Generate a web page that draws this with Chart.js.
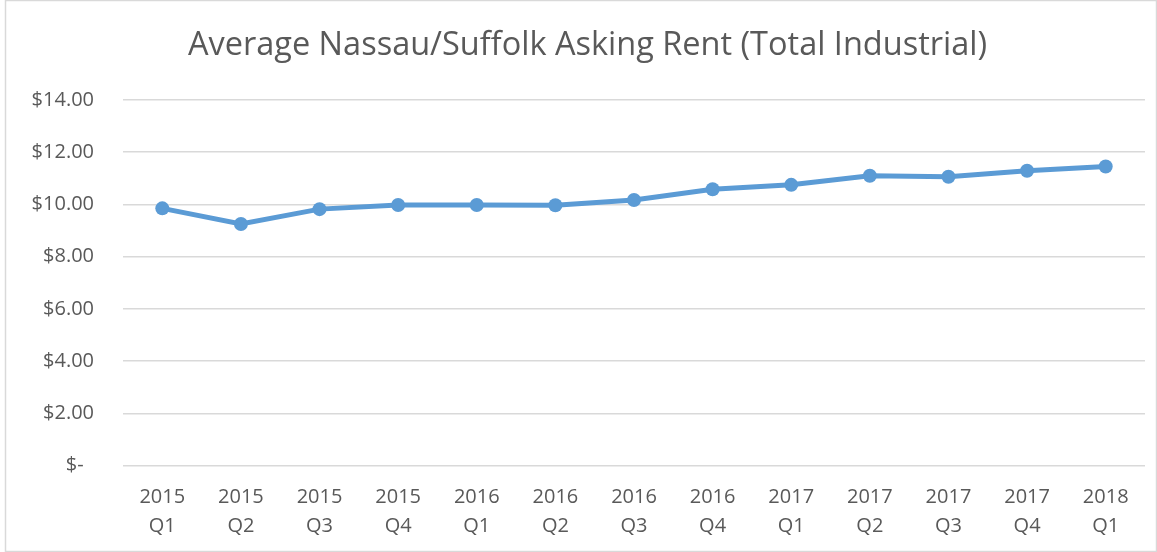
<!DOCTYPE html>
<html>
<head>
<meta charset="utf-8">
<script src="https://cdn.jsdelivr.net/npm/chart.js@4.4.0/dist/chart.umd.min.js"></script>
<style>
    html, body { margin: 0; padding: 0; background: #fff; }
    #wrap { position: relative; width: 1157px; height: 552px; }
</style>
</head>
<body>
<div id="wrap"><canvas id="rentChart"></canvas></div>
<script>
// ========== Data ==========

const years = ['2015', '2015', '2015', '2015', '2016', '2016', '2016', '2016', '2017', '2017', '2017', '2017', '2018'];
const quarters = ['Q1', 'Q2', 'Q3', 'Q4', 'Q1', 'Q2', 'Q3', 'Q4', 'Q1', 'Q2', 'Q3', 'Q4', 'Q1'];
const askingRent = [9.85, 9.25, 9.82, 9.98, 9.98, 9.97, 10.17, 10.58, 10.75, 11.10, 11.06, 11.29, 11.45];
const yTicks = [0, 2, 4, 6, 8, 10, 12, 14];

const chartTitle = 'Average Nassau/Suffolk Asking Rent (Total Industrial)';
const textColor = '#595959';
const gridColor = '#d9d9d9';
const lineColor = '#5b9bd5';
const fontFamily = "'Open Sans', 'Liberation Sans', sans-serif";

// ========== Helpers ==========

// accounting style: zero shows as "$-" with some room on the right
function formatDollar(value) {
    if (value === 0) return '$-\u00a0\u00a0';
    return '$' + value.toFixed(2);
}

// outer frame like the Excel chart area
const framePlugin = {
    id: 'frame',
    afterDraw(chart) {
        const ctx = chart.ctx;
        ctx.save();
        ctx.strokeStyle = gridColor;
        ctx.lineWidth = 1.5;
        ctx.strokeRect(5.5, 0.5, chart.width - 6, chart.height - 1);
        ctx.restore();
    }
};

// ========== Chart ==========

function initChart() {
    const ctx = document.getElementById('rentChart').getContext('2d');
    const labels = years.map((y, i) => [y, quarters[i]]);

    new Chart(ctx, {
        type: 'line',
        data: {
            labels: labels,
            datasets: [{
                label: 'Asking Rent',
                data: askingRent,
                borderColor: lineColor,
                backgroundColor: lineColor,
                borderWidth: 5,
                pointRadius: 7,
                pointHoverRadius: 7,
                pointBackgroundColor: lineColor,
                pointBorderWidth: 0,
                tension: 0,
                fill: false
            }]
        },
        options: {
            responsive: true,
            maintainAspectRatio: false,
            animation: false,
            layout: {
                padding: { left: 30, right: 12, top: 0, bottom: 11 }
            },
            plugins: {
                legend: { display: false },
                tooltip: { enabled: false },
                title: {
                    display: true,
                    text: chartTitle,
                    color: textColor,
                    font: { family: fontFamily, size: 32.5, weight: 'normal' },
                    padding: { top: 26, bottom: 35 }
                }
            },
            scales: {
                x: {
                    offset: true,
                    afterFit: (scale) => {
                        scale.height = 75.5;
                    },
                    grid: { display: false, drawTicks: false },
                    border: { display: false },
                    ticks: {
                        color: textColor,
                        font: { family: fontFamily, size: 20, lineHeight: 1.42 },
                        padding: 18,
                        maxRotation: 0,
                        autoSkip: false
                    }
                },
                y: {
                    min: 0,
                    max: 14,
                    afterBuildTicks: (scale) => {
                        scale.ticks = yTicks.map(v => ({ value: v }));
                    },
                    afterFit: (scale) => {
                        scale.width = 93;
                    },
                    grid: { color: gridColor, lineWidth: 1.5, drawTicks: false },
                    border: { display: false },
                    ticks: {
                        color: textColor,
                        font: { family: fontFamily, size: 20 },
                        padding: 29,
                        callback: (value) => formatDollar(value)
                    }
                }
            }
        },
        plugins: [framePlugin]
    });
}

document.addEventListener('DOMContentLoaded', initChart);
</script>
</body>
</html>
